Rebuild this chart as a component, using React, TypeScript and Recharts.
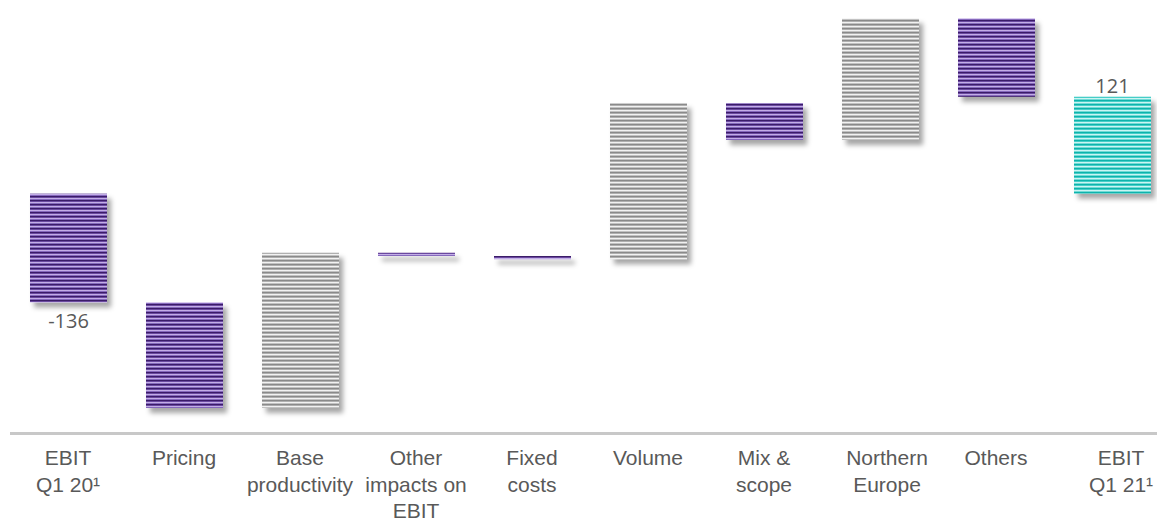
import React from 'react';
import { BarChart, Bar, XAxis, YAxis, Cell } from 'recharts';

// bridge from EBIT Q1 20 to EBIT Q1 21, in m
const categories = [
  'EBIT\nQ1 20¹',
  'Pricing',
  'Base\nproductivity',
  'Other\nimpacts on\nEBIT',
  'Fixed\ncosts',
  'Volume',
  'Mix &\nscope',
  'Northern\nEurope',
  'Others',
  'EBIT\nQ1 21¹',
];
const steps = [-136, -132, 194, -4, -4, 195, -46, 152, -98, 121];
const stepKinds = ['start', 'delta', 'delta', 'delta', 'delta', 'delta', 'delta', 'delta', 'delta', 'end'];

let running = 0;
const data = categories.map((name, i) => {
  const value = steps[i];
  const kind = stepKinds[i];
  let lo = 0;
  let hi = value;
  if (kind === 'delta') {
    lo = running;
    hi = running + value;
  }
  running = hi;
  return { name, kind, value, range: [Math.min(lo, hi), Math.max(lo, hi)] };
});

const fillFor = (kind: string, value: number) => {
  if (kind === 'end') return 'url(#stripeTeal)';
  if (kind === 'delta' && value > 0) return 'url(#stripeGray)';
  return 'url(#stripePurple)';
};

const labelFont = "'Open Sans', 'Noto Sans', sans-serif";
const tickFont = "'Liberation Sans', Arial, sans-serif";

// the text boxes under a few bars sit a bit right of the bar centre
const tickNudge = (index: number) => (index === 7 ? 7 : index === 9 ? 9 : 0);

const WaterfallBar = (props: any) => {
  const { x, y, width, height, fill, payload } = props;
  const top = Math.min(y, y + height);
  const h = Math.max(Math.abs(height), 1);
  let label = null;
  if (payload.kind === 'start') {
    label = (
      <text x={x + width / 2} y={top + h + 25.5} textAnchor="middle" fontFamily={labelFont} fontSize={20} fill="#595959">
        {payload.value}
      </text>
    );
  } else if (payload.kind === 'end') {
    label = (
      <text x={x + width / 2} y={top - 3.5} textAnchor="middle" fontFamily={labelFont} fontSize={20} fill="#595959">
        {payload.value}
      </text>
    );
  }
  return (
    <g>
      <rect x={x} y={top} width={width} height={h} fill={fill} filter="url(#barShadow)" />
      {label}
    </g>
  );
};

const CategoryTick = (props: any) => {
  const { x, y, payload, index } = props;
  const lines = String(payload.value).split('\n');
  const cx = x + tickNudge(index);
  return (
    <text x={cx} y={y + 31.5} textAnchor="middle" fontFamily={tickFont} fontSize={21} fill="#595959">
      {lines.map((line, i) => (
        <tspan key={i} x={cx} dy={i === 0 ? 0 : 26.5}>
          {line}
        </tspan>
      ))}
    </text>
  );
};

const Stripes = ({ id, colors }: { id: string; colors: string[] }) => (
  <pattern id={id} patternUnits="userSpaceOnUse" width={8} height={4}>
    {colors.map((c, i) => (
      <rect key={i} x={0} y={i} width={8} height={1} fill={c} />
    ))}
  </pattern>
);

export default function App() {
  return (
    <div style={{ position: 'fixed', left: 8, top: 8, width: 1149, height: 512, overflow: 'hidden', background: '#fff' }}>
      <BarChart width={1162} height={512} data={data} margin={{ top: 0, right: 0, left: 2, bottom: 0 }}>
        <defs>
          <Stripes id="stripePurple" colors={['#3a1b68', '#6a4aa0', '#c3aee6', '#8669bd']} />
          <Stripes id="stripeGray" colors={['#8a8a8a', '#b0b0b0', '#f2f2f2', '#c2c2c2']} />
          <Stripes id="stripeTeal" colors={['#10b3ac', '#45cec8', '#cbf5f3', '#72dbd6']} />
          <filter id="barShadow" filterUnits="userSpaceOnUse" x={0} y={0} width={1200} height={520}>
            <feDropShadow dx={4} dy={5} stdDeviation={2.5} floodColor="#000" floodOpacity={0.35} />
          </filter>
        </defs>
        <XAxis
          dataKey="name"
          interval={0}
          tickLine={false}
          tickSize={0}
          tickMargin={0}
          axisLine={{ stroke: '#c8c8c8', strokeWidth: 3 }}
          height={86.4}
          tick={<CategoryTick />}
        />
        <YAxis hide type="number" domain={[-300, 232]} allowDataOverflow />
        <Bar dataKey="range" barSize={77} isAnimationActive={false} shape={<WaterfallBar />}>
          {data.map((d, i) => (
            <Cell key={i} fill={fillFor(d.kind, d.value)} />
          ))}
        </Bar>
      </BarChart>
    </div>
  );
}
